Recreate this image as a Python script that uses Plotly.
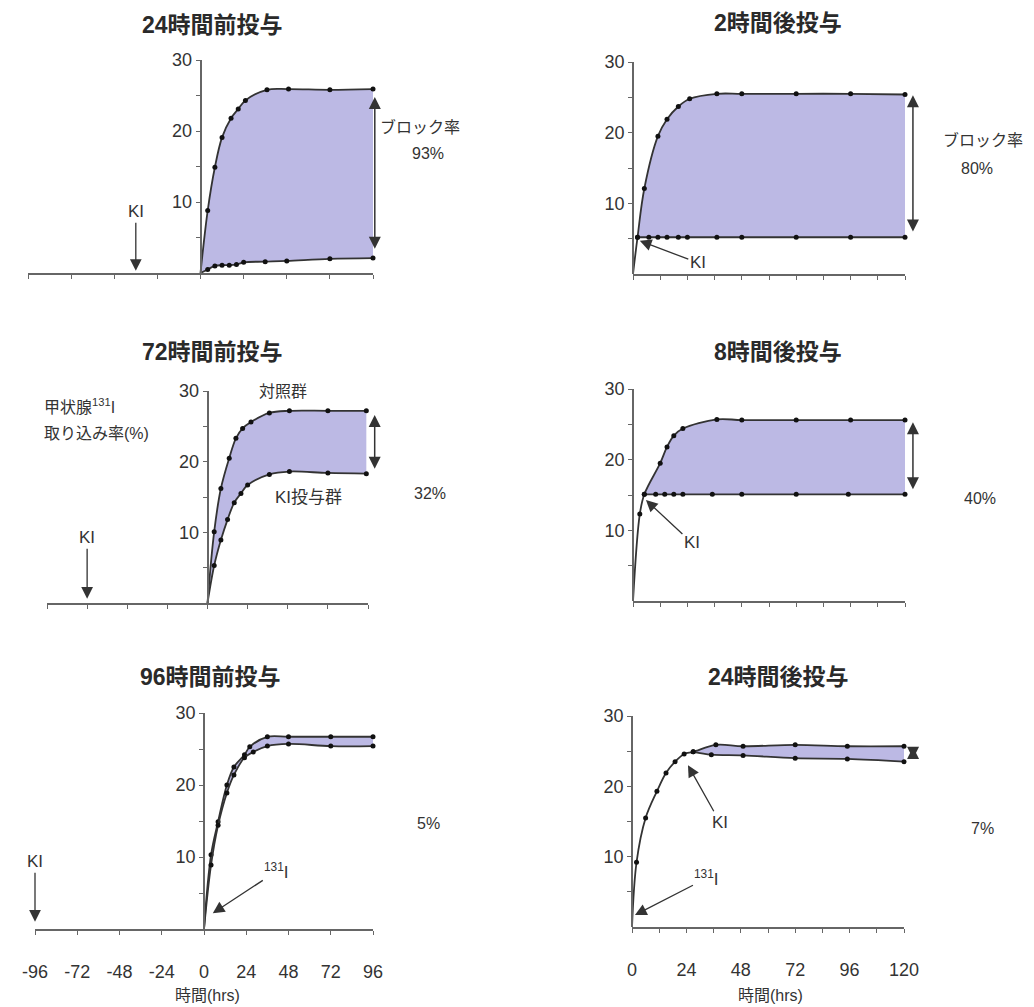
import plotly.graph_objects as go

W, H = 1034, 1007
PAGE_OFFSET = 8  # default body margin of the html page

# ---------------- data ----------------
# Panel A: 24時間前投与
a_ctrl_x = [0, 4, 8, 12, 17, 21, 25, 37, 49, 72, 96]
a_ctrl_y = [0, 8.8, 14.9, 19.1, 21.8, 23.1, 24.3, 25.8, 25.9, 25.8, 25.9]
a_ki_x = [0, 4, 8, 12, 16, 20, 24, 36, 48, 72, 96]
a_ki_y = [0, 0.5, 1.0, 1.1, 1.1, 1.2, 1.5, 1.6, 1.7, 2.0, 2.1]

# Panel B: 72時間前投与
b_ctrl_x = [0, 4, 8, 13, 17, 21, 26, 37, 49, 72, 95]
b_ctrl_y = [0, 10.1, 16.2, 20.5, 23.3, 24.7, 25.6, 26.9, 27.2, 27.2, 27.2]
b_ki_x = [0, 4, 8, 12, 16, 20, 24, 37, 49, 72, 95]
b_ki_y = [0, 5.3, 8.9, 11.8, 14.2, 15.5, 16.7, 18.2, 18.6, 18.4, 18.3]

# Panel C: 96時間前投与
c_ctrl_x = [0, 4, 8, 13, 17, 23, 26, 36, 48, 72, 96]
c_ctrl_y = [0, 10.3, 14.9, 20.0, 22.5, 24.2, 25.3, 26.7, 26.7, 26.7, 26.7]
c_ki_x = [0, 4, 8, 13, 17, 23, 28, 36, 48, 72, 96]
c_ki_y = [0, 8.9, 14.4, 18.9, 21.4, 23.8, 24.6, 25.4, 25.7, 25.4, 25.4]

# Panel D: 2時間後投与
d_ctrl_x = [0, 2, 5, 11, 15, 20, 25, 37, 48, 72, 96, 120]
d_ctrl_y = [0, 5.2, 12.1, 19.5, 21.9, 23.7, 24.8, 25.5, 25.5, 25.5, 25.5, 25.4]
d_ki_x = [2, 7, 11, 15, 20, 24, 37, 48, 72, 96, 120]
d_ki_y = [5.2, 5.2, 5.2, 5.2, 5.2, 5.2, 5.2, 5.2, 5.2, 5.2, 5.2]

# Panel E: 8時間後投与
e_ctrl_x = [0, 3, 5, 12, 15, 18, 22, 37, 48, 72, 96, 120]
e_ctrl_y = [0, 12.3, 15.1, 19.5, 21.8, 23.4, 24.4, 25.7, 25.6, 25.6, 25.6, 25.6]
e_ki_x = [5, 10, 14, 18, 22, 35, 48, 72, 95, 120]
e_ki_y = [15.1, 15.1, 15.1, 15.1, 15.1, 15.1, 15.1, 15.1, 15.1, 15.1]

# Panel F: 24時間後投与
f_ctrl_x = [0, 2, 6, 11, 15, 19, 23, 27, 37, 49, 72, 95, 120]
f_ctrl_y = [0, 9.2, 15.5, 19.3, 21.9, 23.5, 24.6, 24.9, 25.9, 25.7, 25.9, 25.7, 25.7]
f_ki_x = [27, 35, 49, 72, 95, 120]
f_ki_y = [24.9, 24.5, 24.4, 24.0, 23.9, 23.5]

# block-rate double arrows: (x, top, bottom) in data units per panel
block_arrows = {1: (97, 24.8, 3.2), 2: (100, 26.6, 18.8), 4: (123.5, 25.3, 5.8),
                5: (123.5, 25.3, 15.6), 6: (124, 25.6, 23.7)}

# tick labels
left_xticks = [-96, -72, -48, -24, 0, 24, 48, 72, 96]
right_xticks = [0, 12, 24, 36, 48, 60, 72, 84, 96, 108, 120]
right_xlabels = ["0", "", "24", "", "48", "", "72", "", "96", "", "120"]
y_ticks = [5, 10, 15, 20, 25, 30]
y_labels = ["", "10", "", "20", "", "30"]

titles = ["24時間前投与", "72時間前投与", "96時間前投与",
          "2時間後投与", "8時間後投与", "24時間後投与"]

# ---------------- styling ----------------
FONT = "Liberation Sans, Arial, Noto Sans CJK JP, sans-serif"
TXT = "#333333"
AXC = "#666666"
LINEC = "#333333"
FILLC = "rgb(188,185,228)"

panels = [
    dict(ctrl=(a_ctrl_x, a_ctrl_y), ki=(a_ki_x, a_ki_y), xr=[-96, 96],
         dx=(28, 373), dy=(60, 273), bottom=False, title_xy=(212, 25)),
    dict(ctrl=(b_ctrl_x, b_ctrl_y), ki=(b_ki_x, b_ki_y), xr=[-96, 96],
         dx=(47, 368), dy=(391, 603), bottom=False, title_xy=(212, 352)),
    dict(ctrl=(c_ctrl_x, c_ctrl_y), ki=(c_ki_x, c_ki_y), xr=[-96, 96],
         dx=(35, 373), dy=(713, 929), bottom=True, title_xy=(210, 677)),
    dict(ctrl=(d_ctrl_x, d_ctrl_y), ki=(d_ki_x, d_ki_y), xr=[0, 120],
         dx=(633, 905), dy=(62, 274), bottom=False, title_xy=(778, 23)),
    dict(ctrl=(e_ctrl_x, e_ctrl_y), ki=(e_ki_x, e_ki_y), xr=[0, 120],
         dx=(633, 905), dy=(389, 601), bottom=False, title_xy=(778, 352)),
    dict(ctrl=(f_ctrl_x, f_ctrl_y), ki=(f_ki_x, f_ki_y), xr=[0, 120],
         dx=(632, 904), dy=(716, 927), bottom=True, title_xy=(778, 677)),
]

fig = go.Figure()
layout = {}
annotations = []


def px_x(v):
    return (v - PAGE_OFFSET) / W


def px_y(v):
    return 1 - (v - PAGE_OFFSET) / H


def data_to_px(p, x, y):
    x0, x1 = p["xr"]
    dx0, dx1 = p["dx"]
    dy0, dy1 = p["dy"]
    return (dx0 + (x - x0) / (x1 - x0) * (dx1 - dx0),
            dy1 - y / 30 * (dy1 - dy0))


for i, p in enumerate(panels, start=1):
    xa = "x" if i == 1 else f"x{i}"
    ya = "y" if i == 1 else f"y{i}"
    cx, cy = p["ctrl"]
    kx, ky = p["ki"]
    k0 = kx[0]
    # fill between KI curve and control curve (from the KI start onward)
    fx = [x for x in cx if x >= k0]
    fy = [y for x, y in zip(cx, cy) if x >= k0]
    fig.add_trace(go.Scatter(x=kx, y=ky, mode="lines", xaxis=xa, yaxis=ya,
                             line=dict(width=0, shape="spline"),
                             hoverinfo="skip", showlegend=False))
    fig.add_trace(go.Scatter(x=fx, y=fy, mode="lines", xaxis=xa, yaxis=ya,
                             fill="tonexty", fillcolor=FILLC,
                             line=dict(width=0, shape="spline"),
                             hoverinfo="skip", showlegend=False))
    # curves
    for sx, sy in ((cx, cy), (kx, ky)):
        fig.add_trace(go.Scatter(x=sx, y=sy, mode="lines", xaxis=xa, yaxis=ya,
                                 line=dict(color=LINEC, width=1.8, shape="spline"),
                                 cliponaxis=False, showlegend=False,
                                 hoverinfo="skip"))
        mx = [x for x, y in zip(sx, sy) if not (x == 0 and y == 0)]
        my = [y for x, y in zip(sx, sy) if not (x == 0 and y == 0)]
        fig.add_trace(go.Scatter(x=mx, y=my, mode="markers", xaxis=xa, yaxis=ya,
                                 marker=dict(color="#111111", size=5),
                                 cliponaxis=False, showlegend=False))

    # block-rate double arrow (paper space: it sits just past the axis end)
    if i in block_arrows:
        bx, btop, bbot = block_arrows[i]
        xp, yt = data_to_px(p, bx, btop)
        _, yb = data_to_px(p, bx, bbot)
        annotations.append(dict(x=px_x(xp), y=px_y(yt), xref="paper",
                                yref="paper", ax=0, ay=yb - yt, axref="pixel",
                                ayref="pixel", text="", showarrow=True,
                                arrowhead=2, startarrowhead=2,
                                arrowside="end+start", arrowsize=1.6,
                                startarrowsize=1.6, arrowwidth=1.5,
                                arrowcolor="#333333"))

    x0, x1 = p["xr"]
    dx0, dx1 = p["dx"]
    dy0, dy1 = p["dy"]
    left = x0 < 0
    tickvals = left_xticks if left else right_xticks
    ticktext = ([str(t) for t in left_xticks] if left else right_xlabels)
    zero_px = dx0 + (0 - x0) / (x1 - x0) * (dx1 - dx0)

    layout["xaxis" if i == 1 else f"xaxis{i}"] = dict(
        domain=[px_x(dx0), px_x(dx1)], range=[x0, x1], anchor=ya,
        automargin=False, showticklabels=p["bottom"],
        showgrid=False, zeroline=False, showline=True, linecolor=AXC,
        linewidth=1.6, ticks="outside", ticklen=4, tickwidth=1.2,
        tickcolor=AXC, tickvals=tickvals, ticktext=ticktext,
        tickfont=dict(size=18, color=TXT, family=FONT),
        ticklabelstandoff=22 if p["bottom"] else 0, fixedrange=True)
    layout["yaxis" if i == 1 else f"yaxis{i}"] = dict(
        domain=[px_y(dy1), px_y(dy0)], range=[0, 30], anchor="free",
        automargin=False,
        position=px_x(zero_px), showgrid=False, zeroline=False,
        showline=True, linecolor=AXC, linewidth=1.6, ticks="outside",
        ticklen=4, tickwidth=1.2, tickcolor=AXC, tickvals=y_ticks,
        ticktext=y_labels, tickfont=dict(size=18, color=TXT, family=FONT),
        fixedrange=True)

    tx, ty = p["title_xy"]
    annotations.append(dict(x=px_x(tx), y=px_y(ty), xref="paper", yref="paper",
                            text="<b>" + titles[i - 1] + "</b>", showarrow=False,
                            font=dict(size=23, color="#2a2a2a", family=FONT),
                            xanchor="center", yanchor="middle"))


def ptext(x, y, text, size=15, xanchor="center"):
    annotations.append(dict(x=px_x(x), y=px_y(y), xref="paper", yref="paper",
                            text=text, showarrow=False, xanchor=xanchor,
                            yanchor="middle",
                            font=dict(size=size, color=TXT, family=FONT)))


def arrow(i, x, y, ax, ay, text, size=16):
    xa = "x" if i == 1 else f"x{i}"
    ya = "y" if i == 1 else f"y{i}"
    annotations.append(dict(x=x, y=y, xref=xa, yref=ya, ax=ax, ay=ay,
                            text=text, showarrow=True, arrowhead=2,
                            arrowsize=1.8, arrowwidth=1.3, arrowcolor="#333333",
                            font=dict(size=size, color=TXT, family=FONT)))


# Panel A
ptext(420, 127, "ブロック率", 16)
ptext(428, 153, "93%", 16)
arrow(1, -36, 0.3, 0, -59, "KI", 17)
# Panel B
ptext(283, 392, "対照群", 16)
ptext(308, 497, "KI投与群", 17)
ptext(430, 493, "32%", 16)
ptext(42, 406, "甲状腺<sup>131</sup>I", 16, "left")
ptext(42, 433, "取り込み率(%)", 16, "left")
arrow(2, -72, 0.6, 0, -61, "KI", 17)
# Panel C
ptext(428, 823, "5%", 16)
arrow(3, -96, 1.0, 0, -60, "KI", 17)
arrow(3, 5, 2.2, 64, -42, "<sup>131</sup>I", 17)
ptext(207, 995, "時間(hrs)", 16)
# Panel D
ptext(983, 140, "ブロック率", 16)
ptext(977, 168, "80%", 16)
arrow(4, 3, 4.7, 58, 22, "KI", 17)
# Panel E
ptext(980, 498, "40%", 16)
arrow(5, 5.7, 14.3, 46, 43, "KI", 17)
# Panel F
ptext(982, 828, "7%", 16)
arrow(6, 24.7, 23.0, 32, 57, "KI", 17)
arrow(6, 1.3, 1.7, 72, -37, "<sup>131</sup>I", 17)
ptext(770, 995, "時間(hrs)", 16)

fig.update_layout(**layout)
fig.update_layout(width=W, height=H, margin=dict(l=0, r=0, t=0, b=0),
                  template="none",
                  paper_bgcolor="white", plot_bgcolor="rgba(0,0,0,0)",
                  showlegend=False, annotations=annotations,
                  font=dict(family=FONT, color=TXT))

fig.write_html("out.html")
